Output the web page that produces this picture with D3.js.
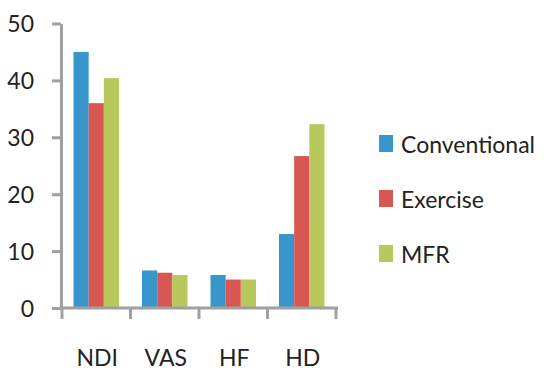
<!DOCTYPE html>
<html>
<head>
<meta charset="utf-8">
<script src="https://cdn.jsdelivr.net/npm/d3@7"></script>
<style>
  html, body { margin: 0; padding: 0; background: #fff; }
  svg text { font-family: Lato, "Open Sans", sans-serif; fill: #222; }
</style>
</head>
<body>
<svg id="chart" width="544" height="371"></svg>
<script>
const categories = ["NDI", "VAS", "HF", "HD"];
const seriesNames = ["Conventional", "Exercise", "MFR"];
const conventional = [45.0, 6.6, 5.8, 13.0];
const exercise = [36.0, 6.2, 5.0, 26.7];
const mfr = [40.4, 5.8, 5.0, 32.3];
const yTicks = [0, 10, 20, 30, 40, 50];
const colors = ["#3996cd", "#d85753", "#b8c85c"];

const seriesValues = [conventional, exercise, mfr];
const svg = d3.select("#chart");
const axisColor = "#a0a0a0";

const x = d3.scaleBand().domain(categories).range([62, 336]).padding(0);
const xs = d3.scaleBand().domain(seriesNames).range([11.5, x.bandwidth() - 11.5]).padding(0);
const y = d3.scaleLinear().domain([0, 50]).range([308, 23.5]);

// bars
categories.forEach((c, ci) => {
  seriesNames.forEach((s, si) => {
    const v = seriesValues[si][ci];
    svg.append("rect")
      .attr("x", x(c) + xs(s))
      .attr("y", y(v))
      .attr("width", xs.bandwidth())
      .attr("height", y(0) - y(v))
      .attr("fill", colors[si]);
  });
});

// y axis
const yAxis = d3.axisLeft(y).tickValues(yTicks).tickSize(9).tickPadding(18).tickSizeOuter(0);
const gy = svg.append("g").attr("transform", "translate(61,0)").call(yAxis);
gy.select(".domain").attr("stroke", axisColor).attr("stroke-width", 3);
gy.selectAll(".tick line").attr("stroke", axisColor).attr("stroke-width", 3);
gy.selectAll(".tick text").style("font-size", "23px").attr("fill", "#222").attr("dy", "0.36em");

// x axis
svg.append("line")
  .attr("x1", 59.5).attr("x2", 338)
  .attr("y1", y(0)).attr("y2", y(0))
  .attr("stroke", axisColor).attr("stroke-width", 3);
const bounds = categories.map(c => x(c)).concat([x.range()[1]]);
svg.selectAll(".xtick").data(bounds).enter().append("line")
  .attr("x1", d => d).attr("x2", d => d)
  .attr("y1", y(0)).attr("y2", y(0) + 11)
  .attr("stroke", axisColor).attr("stroke-width", 3);
svg.selectAll(".xlabel").data(categories).enter().append("text")
  .attr("x", d => x(d) + x.bandwidth() / 2 + 1)
  .attr("y", 365.5)
  .attr("text-anchor", "middle")
  .style("font-size", "23px")
  .text(d => d);

// legend
seriesNames.forEach((s, i) => {
  const ly = 135 + i * 55;
  svg.append("rect").attr("x", 379).attr("y", ly).attr("width", 14).attr("height", 17).attr("fill", colors[i]);
  svg.append("text").attr("x", 401).attr("y", ly + 18.3).style("font-size", "23px").text(s);
});
</script>
</body>
</html>
